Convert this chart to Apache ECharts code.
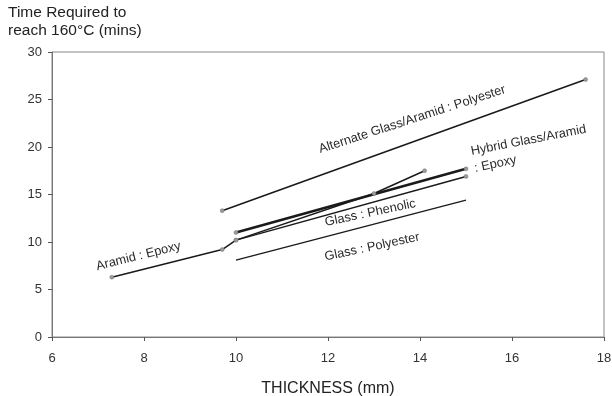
<!DOCTYPE html>
<html>
<head>
<meta charset="utf-8">
<script src="https://cdn.jsdelivr.net/npm/echarts@6/dist/echarts.min.js"></script>
<style>
  html, body { margin: 0; padding: 0; background: #fff; }
  #chart { width: 612px; height: 396px; }
</style>
</head>
<body>
<div id="chart"></div>
<script>
// data (thickness mm, minutes)
const aramidEpoxy = [[7.3, 6.3], [9.7, 9.2], [10.0, 10.2], [13.0, 15.1], [14.1, 17.5]]
const hybridEpoxy = [[10.0, 11.0], [15.0, 17.7]]
const glassPhenolic = [[10.0, 10.2], [15.0, 16.9]]
const glassPolyester = [[10.0, 8.1], [15.0, 14.4]]
const altPolyester = [[9.7, 13.3], [17.6, 27.1]]

const xTicks = [6, 8, 10, 12, 14, 16, 18]
const yTicks = [0, 5, 10, 15, 20, 25, 30]

// curve labels: text, centre in data units, rotation (deg)
const curveLabels = [
  { text: 'Alternate Glass/Aramid : Polyester', at: [13.83, 22.9], rot: 18 },
  { text: 'Hybrid Glass/Aramid', at: [16.36, 20.7], rot: 11 },
  { text: ': Epoxy', at: [15.64, 18.2], rot: 12 },
  { text: 'Aramid : Epoxy', at: [7.88, 8.5], rot: 14 },
  { text: 'Glass : Phenolic', at: [12.92, 13.05], rot: 12 },
  { text: 'Glass : Polyester', at: [12.96, 9.47], rot: 12 },
]

const chart = echarts.init(document.getElementById('chart'))

function lineSeries(name, data, width, markers) {
  return {
    name: name,
    type: 'line',
    data: data,
    symbol: markers ? 'circle' : 'none',
    symbolSize: 4,
    lineStyle: { color: '#1a1a1a', width: width },
    itemStyle: { color: '#999', borderColor: '#777', borderWidth: 0.5 },
    z: 3,
    animation: false,
  }
}

const option = {
  animation: false,
  textStyle: { fontFamily: 'Liberation Sans, Arial, sans-serif' },
  grid: {
    left: 52, right: 8, top: 52, bottom: 59,
    outerBoundsMode: 'none',
    containLabel: false,
    show: true, borderColor: '#888', borderWidth: 1,
  },
  xAxis: {
    type: 'value',
    min: xTicks[0], max: xTicks[xTicks.length - 1], interval: 2,
    name: 'THICKNESS (mm)',
    nameLocation: 'middle',
    nameGap: 44,
    nameTextStyle: { color: '#222', fontSize: 16 },
    axisLine: { lineStyle: { color: '#777' } },
    axisTick: { show: true, length: 4, lineStyle: { color: '#555' } },
    axisLabel: { color: '#333', fontSize: 13, margin: 15 },
    splitLine: { show: false },
  },
  yAxis: {
    type: 'value',
    min: yTicks[0], max: yTicks[yTicks.length - 1], interval: 5,
    axisLine: { show: true, lineStyle: { color: '#777' } },
    axisTick: { show: true, length: 4, lineStyle: { color: '#555' } },
    axisLabel: { color: '#333', fontSize: 13, margin: 10 },
    splitLine: { show: false },
  },
  series: [
    lineSeries('Aramid : Epoxy', aramidEpoxy, 1.5, true),
    lineSeries('Hybrid Glass/Aramid : Epoxy', hybridEpoxy, 2.6, true),
    lineSeries('Glass : Phenolic', glassPhenolic, 1.5, true),
    lineSeries('Glass : Polyester', glassPolyester, 1.3, false),
    lineSeries('Alternate Glass/Aramid : Polyester', altPolyester, 1.6, true),
  ],
}
chart.setOption(option)

const texts = [
  {
    type: 'text', left: 8, top: 4,
    style: {
      text: 'Time Required to\nreach 160°C (mins)',
      fill: '#222', font: '15.5px "Liberation Sans", Arial, sans-serif', lineHeight: 18,
    },
  },
]
curveLabels.forEach(function (l) {
  const p = chart.convertToPixel({ gridIndex: 0 }, l.at)
  texts.push({
    type: 'text',
    x: p[0], y: p[1],
    rotation: l.rot * Math.PI / 180,
    style: {
      text: l.text, fill: '#2a2a2a',
      font: '12.8px "Liberation Sans", Arial, sans-serif',
      align: 'center', verticalAlign: 'middle',
    },
    z: 10,
  })
})
chart.setOption({ graphic: texts })
</script>
</body>
</html>
